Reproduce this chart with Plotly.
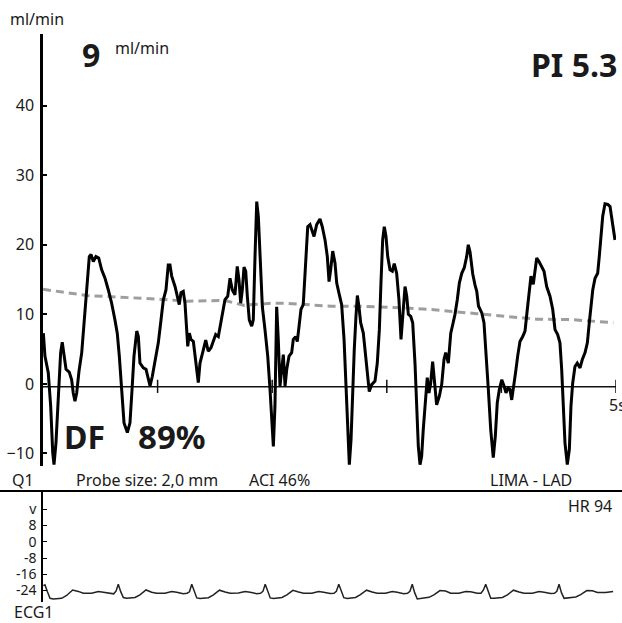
import plotly.graph_objects as go

# ---------------- data ----------------
FLOW_T = [0.003, 0.017, 0.046, 0.067, 0.085, 0.096, 0.113, 0.134, 0.154, 0.168, 0.183, 0.201, 0.229, 0.250, 0.264,
          0.279, 0.294, 0.314, 0.338, 0.358, 0.381, 0.404, 0.419, 0.439, 0.462, 0.486, 0.512, 0.541, 0.570, 0.599,
          0.628, 0.648, 0.666, 0.687, 0.707, 0.736, 0.759, 0.777, 0.794, 0.818, 0.832, 0.846, 0.875, 0.899, 0.919,
          0.934, 0.954, 0.977, 1.006, 1.027, 1.050, 1.073, 1.093, 1.108, 1.123, 1.152, 1.175, 1.189, 1.204, 1.224,
          1.239, 1.254, 1.263, 1.277, 1.291, 1.312, 1.326, 1.341, 1.355, 1.370, 1.385, 1.399, 1.420, 1.442, 1.466,
          1.486, 1.507, 1.530, 1.553, 1.573, 1.588, 1.612, 1.632, 1.652, 1.675, 1.695, 1.710, 1.725, 1.739, 1.754,
          1.769, 1.783, 1.800, 1.821, 1.835, 1.850, 1.865, 1.879, 1.894, 1.914, 1.937, 1.961, 1.981, 1.996, 2.010,
          2.024, 2.039, 2.053, 2.068, 2.083, 2.097, 2.112, 2.127, 2.147, 2.170, 2.184, 2.205, 2.219, 2.234, 2.251,
          2.271, 2.292, 2.310, 2.330, 2.345, 2.365, 2.388, 2.417, 2.437, 2.461, 2.481, 2.496, 2.510, 2.528, 2.548,
          2.563, 2.586, 2.606, 2.627, 2.644, 2.659, 2.673, 2.688, 2.702, 2.716, 2.731, 2.743, 2.757, 2.772, 2.795,
          2.816, 2.833, 2.847, 2.868, 2.897, 2.917, 2.935, 2.949, 2.964, 2.978, 2.993, 3.008, 3.028, 3.048, 3.065,
          3.086, 3.106, 3.124, 3.139, 3.159, 3.174, 3.188, 3.209, 3.226, 3.246, 3.261, 3.275, 3.290, 3.304, 3.318,
          3.339, 3.353, 3.368, 3.383, 3.400, 3.414, 3.435, 3.458, 3.479, 3.499, 3.514, 3.537, 3.558, 3.575, 3.595,
          3.615, 3.633, 3.654, 3.676, 3.697, 3.711, 3.726, 3.750, 3.770, 3.785, 3.800, 3.829, 3.848, 3.866, 3.886,
          3.907, 3.929, 3.947, 3.964, 3.982, 4.003, 4.023, 4.040, 4.058, 4.075, 4.090, 4.104, 4.125, 4.142, 4.162,
          4.186, 4.206, 4.226, 4.244, 4.258, 4.278, 4.293, 4.308, 4.328, 4.352, 4.372, 4.395, 4.424, 4.448, 4.468,
          4.491, 4.511, 4.526, 4.540, 4.555, 4.575, 4.593, 4.607, 4.622, 4.642, 4.662, 4.686, 4.706, 4.730, 4.750,
          4.767, 4.782, 4.797, 4.817, 4.840, 4.854, 4.869, 4.884, 4.904, 4.928, 4.948, 4.968, 4.991]
FLOW_V = [7.3, 4.0, 1.6, -3.2, -9.9, -11.6, -8.5, -0.8, 4.5, 6.0, 4.5, 2.1, 1.7, 0.6, -1.3,
          -2.5, -1.3, 1.8, 4.5, 8.8, 14.5, 18.3, 18.6, 17.6, 18.3, 18.1, 16.4, 15.2, 13.5, 11.6,
          9.2, 7.3, 4.0, -1.8, -5.6, -7.0, -5.6, -0.8, 4.0, 7.6, 6.8, 3.0, 2.3, 2.1, 0.9,
          -0.3, 1.1, 3.0, 5.9, 8.8, 12.1, 13.5, 17.1, 17.1, 15.5, 14.0, 12.1, 11.4, 13.1, 13.3,
          11.6, 7.5, 5.4, 7.3, 6.4, 6.1, 4.0, 2.1, 0.2, 3.0, 4.2, 4.9, 6.3, 4.7, 5.2,
          6.1, 7.1, 6.8, 8.8, 11.1, 12.1, 12.6, 15.2, 13.5, 12.8, 16.9, 15.0, 11.6, 13.5, 16.8,
          16.2, 12.6, 9.2, 8.3, 9.2, 18.3, 26.2, 24.1, 17.4, 11.1, 7.8, 4.0, -0.8, -5.6, -9.0,
          -3.2, 11.1, 6.4, -0.3, 2.1, 4.2, -0.3, 2.1, 4.0, 4.5, 6.4, 6.8, 6.1, 8.8, 10.7,
          11.4, 18.3, 22.6, 22.9, 22.2, 21.2, 22.9, 23.7, 22.6, 20.7, 18.3, 14.7, 16.4, 19.1, 17.4,
          14.5, 12.8, 11.4, 6.4, -0.8, -6.6, -11.6, -8.0, -0.8, 4.9, 9.7, 12.7, 11.1, 8.8, 7.3,
          4.0, 0.6, -1.1, -0.1, 0.4, 3.0, 7.8, 14.5, 20.7, 22.6, 21.2, 18.3, 16.4, 16.2, 17.3,
          15.9, 12.1, 6.4, 9.7, 14.0, 12.6, 10.0, 9.7, 8.8, 3.0, -3.2, -9.0, -11.6, -10.4, -6.6,
          -1.8, 0.9, -1.3, 0.1, 3.2, 1.1, -3.0, -1.8, -0.1, 3.5, 4.5, 3.0, 7.3, 8.5, 10.0,
          12.1, 14.5, 15.9, 16.7, 18.3, 20.0, 19.0, 15.8, 14.2, 13.3, 11.2, 10.2, 8.8, 4.9, -0.8,
          -6.6, -10.6, -7.5, -2.7, -0.8, 0.6, -0.3, -1.3, -0.6, -0.8, -2.3, -0.3, 1.8, 4.0, 6.1,
          6.8, 7.6, 10.7, 14.0, 15.5, 14.3, 15.9, 18.1, 17.6, 16.7, 16.2, 14.0, 12.6, 10.7, 7.8,
          7.1, 5.9, 2.1, -3.2, -8.5, -11.6, -9.4, -3.2, 0.1, 2.5, 3.0, 2.3, 3.5, 4.5, 5.9,
          8.8, 11.6, 13.5, 15.2, 15.9, 18.3, 21.2, 24.1, 25.9, 25.8, 25.5, 23.1, 20.7]

MEAN_T = [0.0, 0.384, 0.995, 1.254, 1.588, 1.748, 1.996, 2.112, 2.519, 2.795, 3.174, 3.377, 3.785, 4.017, 4.308, 4.599, 4.977]
MEAN_V = [13.6, 12.7, 12.2, 11.9, 12.0, 11.3, 11.6, 11.6, 11.15, 11.15, 10.9, 10.7, 10.1, 9.7, 9.3, 9.25, 8.8]

ECG_T = [0.003,
         0.017, 0.038, 0.061, 0.090, 0.163, 0.206, 0.259, 0.308, 0.352, 0.424, 0.483, 0.527, 0.584, 0.617, 0.638,
         0.657, 0.678, 0.701, 0.730, 0.803, 0.846, 0.899, 0.948, 0.992, 1.064, 1.123, 1.167, 1.224, 1.257, 1.278,
         1.298, 1.319, 1.342, 1.371, 1.444, 1.487, 1.540, 1.589, 1.633, 1.705, 1.764, 1.808, 1.865, 1.898, 1.919,
         1.939, 1.960, 1.983, 2.012, 2.085, 2.128, 2.181, 2.230, 2.274, 2.346, 2.405, 2.449, 2.506, 2.539, 2.560,
         2.581, 2.602, 2.625, 2.654, 2.727, 2.770, 2.823, 2.872, 2.916, 2.988, 3.047, 3.091, 3.148, 3.181, 3.202,
         3.222, 3.243, 3.266, 3.295, 3.368, 3.411, 3.464, 3.513, 3.557, 3.629, 3.688, 3.732, 3.789, 3.822, 3.843,
         3.863, 3.884, 3.907, 3.936, 4.009, 4.052, 4.105, 4.154, 4.198, 4.270, 4.329, 4.373, 4.430, 4.463, 4.484,
         4.503, 4.524, 4.547, 4.576, 4.649, 4.692, 4.745, 4.794, 4.838, 4.910, 4.975]
ECG_V = [-21.6,
         -21.2, -24.5, -27.8, -28.1, -27.8, -26.4, -23.7, -24.4, -25.3, -25.3, -24.5, -24.8, -25.5, -25.6, -24.2,
         -20.9, -24.5, -27.4, -27.8, -27.4, -26.1, -23.7, -24.8, -25.3, -25.3, -24.5, -24.8, -25.5, -25.3, -24.6,
         -20.9, -24.5, -27.6, -27.9, -27.5, -26.1, -23.8, -24.7, -25.3, -25.2, -24.5, -24.8, -25.5, -25.3, -24.4,
         -20.9, -24.6, -27.6, -27.9, -27.4, -26.1, -23.9, -24.7, -25.3, -25.3, -24.5, -24.8, -25.4, -25.3, -24.3,
         -20.9, -24.5, -27.5, -27.9, -27.4, -26.0, -23.8, -24.7, -25.3, -25.3, -24.5, -24.8, -25.5, -25.3, -24.3,
         -20.9, -25.0, -28.1, -27.8, -27.3, -26.1, -24.0, -24.2, -25.3, -25.3, -24.5, -24.6, -25.3, -25.3, -23.7,
         -20.9, -24.5, -27.8, -27.8, -27.4, -26.1, -23.8, -24.7, -25.3, -25.3, -24.5, -24.8, -25.4, -25.3, -24.3,
         -20.9, -25.0, -27.8, -27.7, -27.1, -26.0, -24.0, -24.1, -24.9, -24.9, -24.5]

FLOW_TICKS = [40, 30, 20, 10, 0, -10]
ECG_TICKS = [24, 16, 8, 0, -8, -16, -24]
ECG_TICKTEXT = ["", "v", "8", "0", "-8", "-16", "-24"]
TIME_TICKS = [1, 2, 3, 4, 5]

# ---------------- layout helpers ----------------
W, H = 622, 623
def px(x):
    return x / W
def py(y):
    return 1 - y / H

FONT = "Noto Sans, Open Sans, DejaVu Sans, sans-serif"
TXT = "#1a1a1a"
BASE_Y = -0.4

fig = go.Figure()

# mean flow (dashed)
fig.add_trace(go.Scatter(x=MEAN_T, y=MEAN_V, mode="lines",
                         line=dict(color="#9e9e9e", width=3, dash="8px,5px"),
                         xaxis="x", yaxis="y", hoverinfo="skip"))
# time baseline
fig.add_trace(go.Scatter(x=[0, TIME_TICKS[-1]], y=[BASE_Y, BASE_Y], mode="lines",
                         line=dict(color="#111", width=1.5), xaxis="x", yaxis="y", hoverinfo="skip"))
tx, ty = [], []
for t in TIME_TICKS:
    tx += [t, t, None]
    ty += [BASE_Y + 1.0, BASE_Y - 0.9, None]
fig.add_trace(go.Scatter(x=tx, y=ty, mode="lines", line=dict(color="#111", width=1.5),
                         xaxis="x", yaxis="y", hoverinfo="skip"))
# flow curve
fig.add_trace(go.Scatter(x=FLOW_T, y=FLOW_V, mode="lines",
                         line=dict(color="#000", width=3), xaxis="x", yaxis="y"))
# ECG
fig.add_trace(go.Scatter(x=ECG_T, y=ECG_V, mode="lines",
                         line=dict(color="#222", width=1.5), xaxis="x2", yaxis="y2"))

xdom = [px(43), px(616)]
fig.update_layout(
    width=W, height=H, margin=dict(l=0, r=0, t=0, b=0),
    paper_bgcolor="white", plot_bgcolor="white", showlegend=False,
    font=dict(family=FONT, size=16, color=TXT),
    xaxis=dict(domain=xdom, range=[0, 5], visible=False, anchor="y"),
    yaxis=dict(domain=[py(466), py(34)], range=[-11.8, 50.3], anchor="x",
               showline=True, linecolor="#000", linewidth=2.5, showgrid=False, zeroline=False,
               ticks="inside", ticklen=4, tickwidth=1.5, tickcolor="#000",
               tickvals=FLOW_TICKS, ticklabelstandoff=3,
               tickfont=dict(size=16, color=TXT)),
    xaxis2=dict(domain=xdom, range=[0, 5], visible=False, anchor="y2"),
    yaxis2=dict(domain=[py(602), py(492)], range=[-29.6, 24.4], anchor="x2",
                showline=True, linecolor="#000", linewidth=1.5, showgrid=False, zeroline=False,
                ticks="inside", ticklen=4, tickwidth=1, tickcolor="#000",
                tickvals=ECG_TICKS, ticktext=ECG_TICKTEXT, ticklabelstandoff=2,
                tickfont=dict(size=14, color=TXT)),
    shapes=[dict(type="line", xref="paper", yref="paper", x0=0, x1=1, y0=py(491), y1=py(491),
                 line=dict(color="#000", width=2))],
)

def ann(text, x, y, xanchor="left", size=16, bold=False):
    fig.add_annotation(text=f"<b>{text}</b>" if bold else text, xref="paper", yref="paper",
                       x=px(x), y=py(y), xanchor=xanchor, yanchor="middle", showarrow=False,
                       font=dict(family=FONT, size=size, color=TXT))

ann("ml/min", 36.5, 19, "center")
ann("9", 91, 54, "center", size=32, bold=True)
ann("ml/min", 113, 48)
ann("PI 5.3", 619, 64, "right", size=32, bold=True)
ann("DF", 62, 436, size=32, bold=True)
ann("89%", 136, 436, size=33, bold=True)
ann("5s", 607, 405)
ann("Q1", 22.5, 480, "center")
ann("Probe size: 2,0 mm", 74, 480)
ann("ACI 46%", 247, 480)
ann("LIMA - LAD", 574, 480, "right")
ann("HR 94", 614, 506, "right")
ann("ECG1", 12, 612)

fig.write_html("out.html", config={"displayModeBar": False},
               post_script="document.body.style.margin='0';document.body.style.padding='0';")
